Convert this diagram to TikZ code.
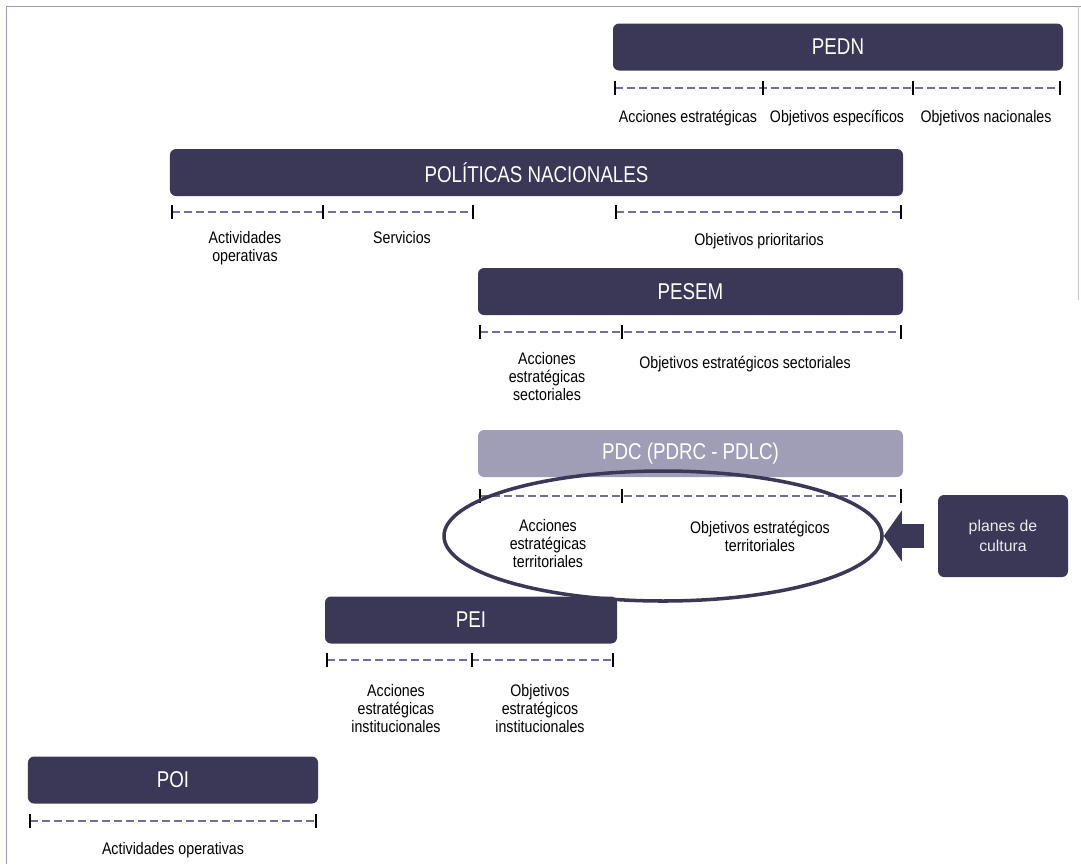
\documentclass[tikz,border=0pt]{standalone}
\usepackage{fontspec}
\setmainfont{Liberation Sans}
\newfontfamily\barfont[FakeStretch=0.82]{Liberation Sans}
\newfontfamily\labelfont[FakeStretch=0.85]{Liberation Sans}
\usetikzlibrary{shapes.geometric, arrows.meta}

\definecolor{planDark}{RGB}{58,56,86}
\definecolor{planLight}{RGB}{160,158,182}
\definecolor{dashLine}{RGB}{118,108,160}
\definecolor{frameLine}{RGB}{160,150,185}

\begin{document}
\begin{tikzpicture}[x=0.2mm, y=-0.2mm]
	\tikzstyle{Plan} = [rectangle, rounded corners=1.2mm, minimum height=9.4mm, inner sep=0pt, text centered, fill=planDark, text=white, font=\barfont\fontsize{13}{15}\selectfont]
	\tikzstyle{PlanLight} = [Plan, fill=planLight]
	\tikzstyle{Label} = [anchor=north, align=center, inner sep=1pt, font=\labelfont\fontsize{9.5}{10.2}\selectfont]
	\tikzstyle{Timeline} = [dashLine, line width=0.6pt, dash pattern=on 1.6mm off 0.8mm]
	\tikzstyle{Tick} = [black, line width=1.3pt]
	\tikzstyle{arrow} = [planDark, line width=4.8mm, -{Triangle[length=3.6mm, width=10mm]}]

	\useasboundingbox (0,0) rectangle (1081,864);
	\draw [frameLine, line width=0.5pt] (6,864) -- (6,6) -- (1081,6);
	\draw [frameLine!60, line width=0.5pt] (1078,6) -- (1078,300);

	% PEDN
	\node (pedn) [Plan, minimum width=90mm] at (838,47) {PEDN};
	\draw [Timeline] (615,88) -- (1060,88);
	\foreach \x in {615,763,913,1060}
		\draw [Tick] (\x,81) -- (\x,95);
	\node (pednA) [Label] at (688,108) {Acciones estratégicas};
	\node (pednB) [Label] at (837,108) {Objetivos específicos};
	\node (pednC) [Label] at (986,108) {Objetivos nacionales};

	% politicas nacionales
	\node (polNac) [Plan, minimum width=146.6mm] at (536.5,172.5) {POLÍTICAS NACIONALES};
	\draw [Timeline] (172,212) -- (473,212);
	\draw [Timeline] (616,212) -- (901,212);
	\foreach \x in {172,323,473,616,901}
		\draw [Tick] (\x,205) -- (\x,219);
	\node (polA) [Label] at (245,229) {Actividades\\operativas};
	\node (polB) [Label] at (402,229) {Servicios};
	\node (polC) [Label] at (759,231) {Objetivos prioritarios};

	% PESEM
	\node (pesem) [Plan, minimum width=85mm] at (690.5,291.5) {PESEM};
	\draw [Timeline] (480,332) -- (901,332);
	\foreach \x in {480,622,901}
		\draw [Tick] (\x,325) -- (\x,339);
	\node (pesemA) [Label] at (547,350) {Acciones\\estratégicas\\sectoriales};
	\node (pesemB) [Label] at (745,354) {Objetivos estratégicos sectoriales};

	% PDC
	\node (pdc) [PlanLight, minimum width=85mm] at (690.5,453.5) {PDC (PDRC - PDLC)};
	\draw [Timeline] (480,496) -- (901,496);
	\foreach \x in {480,622,901}
		\draw [Tick, line width=0.6pt] (\x,489) -- (\x,503);
	\node (pdcA) [Label] at (548,517) {Acciones\\estratégicas\\territoriales};
	\node (pdcB) [Label] at (760,519) {Objetivos estratégicos\\territoriales};
	\node (ell) [ellipse, draw=planDark, line width=2pt, minimum width=87.6mm, minimum height=26mm, inner sep=0pt] at (663,536) {};

	% planes de cultura
	\node (planes) [Plan, minimum width=26mm, minimum height=16.4mm, align=center, text=white!90!planDark, font=\fontsize{9}{11}\selectfont] at (1003,536) {planes de\\cultura};
	\draw [arrow] ([xshift=-2.8mm]planes.west) -- (ell.east);

	% PEI
	\node (pei) [Plan, minimum width=58.4mm] at (471,620) {PEI};
	\draw [Timeline] (327,660) -- (613,660);
	\foreach \x in {327,472,613}
		\draw [Tick] (\x,653) -- (\x,667);
	\node (peiA) [Label] at (396,682) {Acciones\\estratégicas\\institucionales};
	\node (peiB) [Label] at (540,682) {Objetivos\\estratégicos\\institucionales};

	% POI
	\node (poi) [Plan, minimum width=58mm] at (173,780) {POI};
	\draw [Timeline] (30,821) -- (316,821);
	\foreach \x in {30,316}
		\draw [Tick] (\x,814) -- (\x,828);
	\node (poiA) [Label] at (173,840) {Actividades operativas};
\end{tikzpicture}
\end{document}
